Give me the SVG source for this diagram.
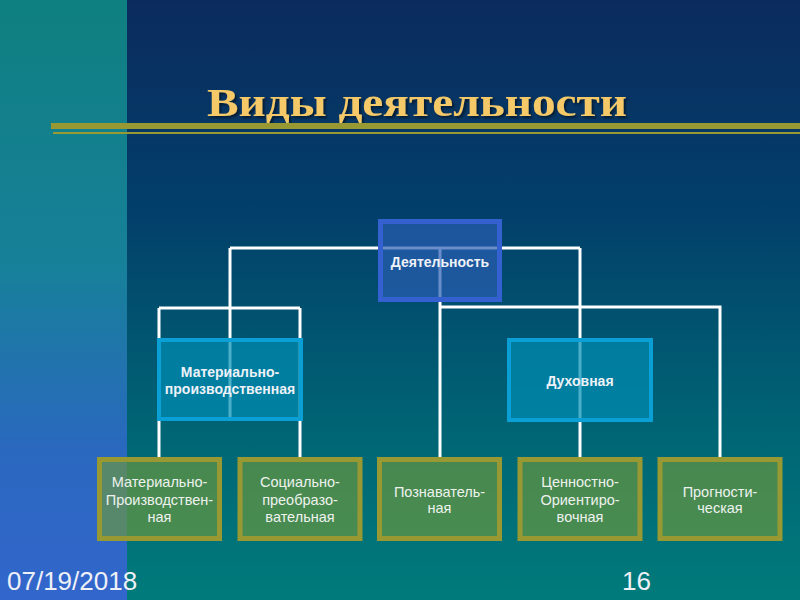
<svg xmlns="http://www.w3.org/2000/svg" width="800" height="600" viewBox="0 0 800 600">
<defs>
<linearGradient id="bgMain" x1="0" y1="0" x2="0" y2="1">
<stop offset="0" stop-color="#0b2b5e"/>
<stop offset="0.35" stop-color="#023f6a"/>
<stop offset="0.7" stop-color="#006374"/>
<stop offset="1" stop-color="#007b7b"/>
</linearGradient>
<linearGradient id="bgBand" x1="0" y1="0" x2="0" y2="1">
<stop offset="0" stop-color="#0f8080"/>
<stop offset="0.45" stop-color="#17809a"/>
<stop offset="0.75" stop-color="#2a68bf"/>
<stop offset="1" stop-color="#3366cc"/>
</linearGradient>
<filter id="shadow" x="-5%" y="-20%" width="110%" height="140%">
<feDropShadow dx="2" dy="2" stdDeviation="1" flood-color="#000000" flood-opacity="0.5"/>
</filter>
<style>
.conn{stroke:#ffffff;stroke-width:3;fill:none}
.top rect{fill:#2a5eb2;fill-opacity:0.7;stroke:#3560d0;stroke-width:5}
.mid rect{fill:#008db3;fill-opacity:0.7;stroke:#0aa0d6;stroke-width:4}
.leaf rect{fill:#6f9a3c;fill-opacity:0.65;stroke:#999933;stroke-width:5}
.bold{font-family:"Liberation Sans",Arial,sans-serif;font-weight:bold;font-size:14px;fill:#eef2f8;text-anchor:middle}
.norm{font-family:"Liberation Sans",Arial,sans-serif;font-size:14.5px;fill:#eef2ee;text-anchor:middle}
.foot{font-family:"Liberation Sans",Arial,sans-serif;font-size:26px;fill:#eef0f8}
</style>
</defs>
<rect x="0" y="0" width="800" height="600" fill="url(#bgMain)"/>
<rect x="0" y="0" width="127" height="600" fill="url(#bgBand)"/>

<g id="title">
<text x="417" y="116" text-anchor="middle" textLength="420" lengthAdjust="spacingAndGlyphs" font-family="Liberation Serif, serif" font-weight="bold" font-size="40" fill="#f5c968" filter="url(#shadow)">Виды деятельности</text>
<rect x="51" y="123" width="749" height="6" fill="#999933"/>
<rect x="53" y="132" width="747" height="2" fill="#999933"/>
</g>

<g id="connectors">
<path class="conn" d="M230,248 H580"/>
<path class="conn" d="M230,248 V420"/>
<path class="conn" d="M580,248 V458"/>
<path class="conn" d="M159,308 H300 M159,308 V458 M300,308 V458"/>
<path class="conn" d="M440,248 V458 M440,307 H720 V458"/>
</g>

<g id="n-activity" class="top">
<rect x="380.5" y="221.5" width="119" height="78"/>
<text class="bold" x="440" y="267">Деятельность</text>
</g>

<g id="n-material" class="mid">
<rect x="159" y="340" width="142" height="79"/>
<text class="bold" x="230" y="377">Материально-</text>
<text class="bold" x="230" y="394">производственная</text>
</g>

<g id="n-spiritual" class="mid">
<rect x="509" y="340" width="142" height="80"/>
<text class="bold" x="580" y="386">Духовная</text>
</g>

<g id="n-leaf1" class="leaf">
<rect x="99.5" y="459.5" width="120" height="79"/>
<text class="norm" x="159.5" y="487">Материально-</text>
<text class="norm" x="159.5" y="505">Производствен-</text>
<text class="norm" x="159.5" y="522">ная</text>
</g>

<g id="n-leaf2" class="leaf">
<rect x="240" y="459.5" width="120" height="79"/>
<text class="norm" x="300" y="487">Социально-</text>
<text class="norm" x="300" y="505">преобразо-</text>
<text class="norm" x="300" y="522">вательная</text>
</g>

<g id="n-leaf3" class="leaf">
<rect x="379.5" y="459.5" width="120" height="79"/>
<text class="norm" x="439.5" y="497">Познаватель-</text>
<text class="norm" x="439.5" y="513">ная</text>
</g>

<g id="n-leaf4" class="leaf">
<rect x="520" y="459.5" width="120" height="79"/>
<text class="norm" x="580" y="487">Ценностно-</text>
<text class="norm" x="580" y="505">Ориентиро-</text>
<text class="norm" x="580" y="522">вочная</text>
</g>

<g id="n-leaf5" class="leaf">
<rect x="660" y="459.5" width="120" height="79"/>
<text class="norm" x="720" y="497">Прогности-</text>
<text class="norm" x="720" y="513">ческая</text>
</g>

<g id="footer">
<text class="foot" x="7" y="590">07/19/2018</text>
<text class="foot" x="622" y="590">16</text>
</g>
</svg>
